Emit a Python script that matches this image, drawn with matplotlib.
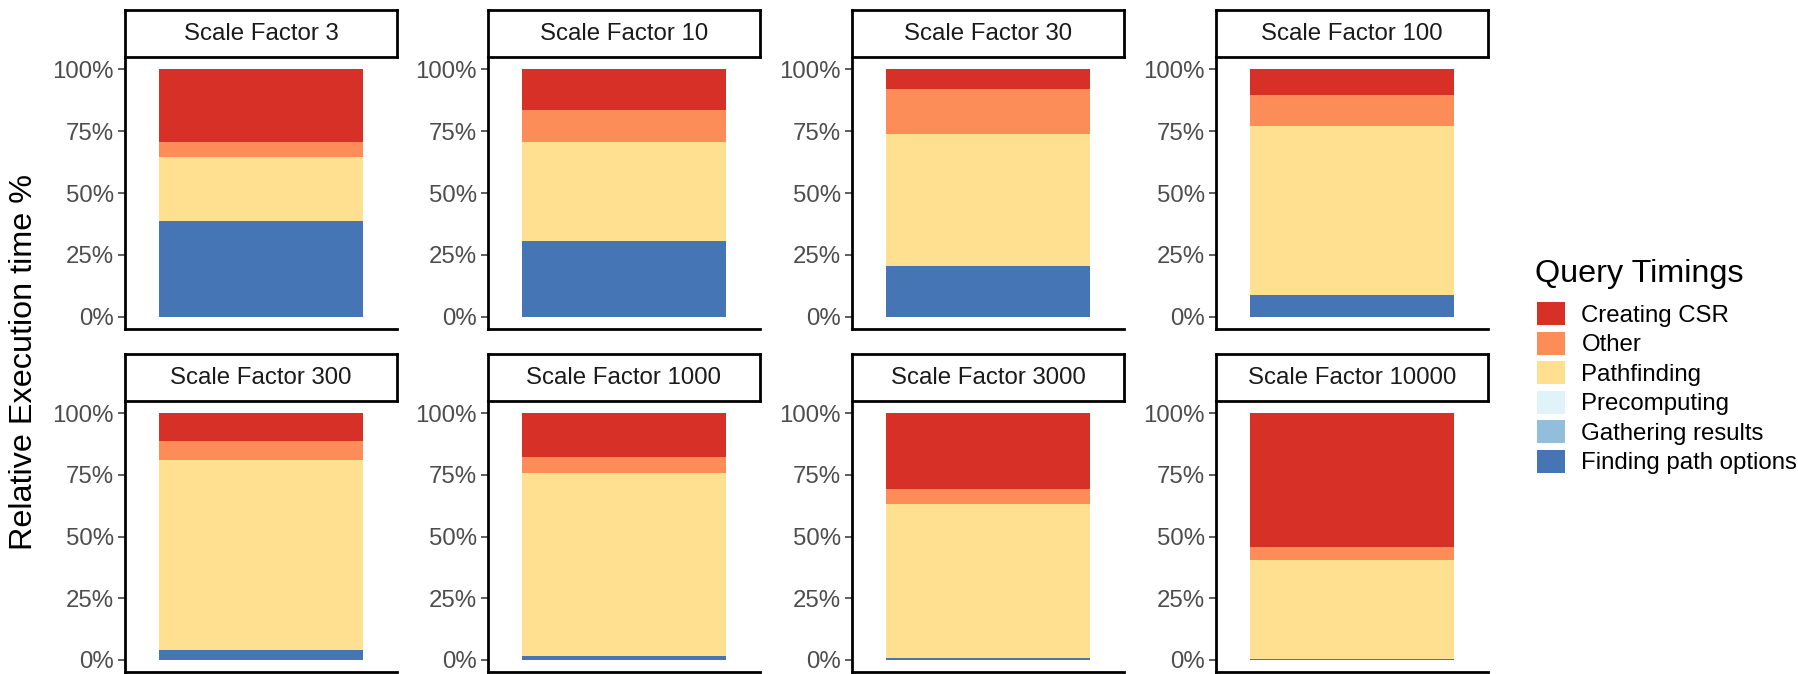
import matplotlib
matplotlib.use("Agg")
import matplotlib.pyplot as plt
from matplotlib.patches import Patch
from matplotlib.ticker import FixedLocator, FuncFormatter

plt.rcParams["font.family"] = ["Liberation Sans", "DejaVu Sans"]

# Scale factors (one facet each)
scale_factors = ["3", "10", "30", "100", "300", "1000", "3000", "10000"]

# Share of total query time per phase, in percent
finding_path_options = [38.5, 30.7, 20.4, 8.7, 3.8, 1.5, 0.8, 0.3]
gathering_results = [0.0, 0.0, 0.0, 0.0, 0.0, 0.0, 0.0, 0.0]
precomputing = [0.0, 0.0, 0.0, 0.0, 0.0, 0.0, 0.0, 0.0]
pathfinding = [25.9, 39.8, 53.5, 68.3, 77.4, 74.3, 62.2, 40.1]
other = [6.1, 13.2, 18.3, 12.5, 7.5, 6.4, 6.4, 5.4]
creating_csr = [29.5, 16.3, 7.8, 10.5, 11.3, 17.8, 30.6, 54.2]

# Stacking order, bottom to top
series_names = ["Finding path options", "Gathering results", "Precomputing",
                "Pathfinding", "Other", "Creating CSR"]
series_values = [finding_path_options, gathering_results, precomputing,
                 pathfinding, other, creating_csr]
series_colors = ["#4575B4", "#91BFDB", "#E0F3F8", "#FEE090", "#FC8D59", "#D73027"]

y_ticks = [0, 25, 50, 75, 100]

W, H = 1798, 674
fig = plt.figure(figsize=(W / 100, H / 100), dpi=100)

col_left = [125, 488, 852, 1216]
panel_w = 272
rows = [  # (strip top, panel top, panel bottom) in pixels from the top
    (10, 57, 329),
    (354, 401, 672),
]

text_size = 17.3
title_size = 23.3

for i, sf in enumerate(scale_factors):
    r, c = divmod(i, 4)
    s_top, p_top, p_bot = rows[r]
    x0 = col_left[c]
    ax = fig.add_axes([x0 / W, (H - p_bot) / H, panel_w / W, (p_bot - p_top) / H])

    bottom = 0.0
    for name, vals, col in zip(series_names, series_values, series_colors):
        ax.bar([0], [vals[i]], width=0.9, bottom=[bottom], color=col,
               edgecolor="none", label=name)
        bottom += vals[i]

    ax.set_xlim(-0.6, 0.6)
    ax.set_ylim(-5, 105)
    ax.yaxis.set_major_locator(FixedLocator(y_ticks))
    ax.yaxis.set_major_formatter(FuncFormatter(lambda v, p: f"{v:.0f}%"))
    ax.set_xticks([])
    for side in ("top", "right"):
        ax.spines[side].set_visible(False)
    for side in ("left", "bottom"):
        ax.spines[side].set_linewidth(2.0)
        ax.spines[side].set_color("black")
    ax.tick_params(axis="y", length=5, width=1.1, color="#333333", pad=3,
                   labelsize=text_size, labelcolor="#4D4D4D")

    # facet strip
    sax = fig.add_axes([x0 / W, (H - p_top) / H, panel_w / W, (p_top - s_top) / H])
    sax.set_xticks([])
    sax.set_yticks([])
    for sp in sax.spines.values():
        sp.set_linewidth(2.0)
        sp.set_color("black")
    sax.text(0.5, 0.5, f"Scale Factor {sf}", ha="center", va="center",
             fontsize=text_size, color="#1A1A1A", transform=sax.transAxes)

fig.text(24 / W, (H - 362) / H, "Relative Execution time %", rotation=90,
         ha="center", va="center", fontsize=title_size, color="black")

# legend, top entry first
fig.text(1535 / W, (H - 274) / H, "Query Timings", ha="left", va="center",
         fontsize=title_size, color="black")
handles = [Patch(facecolor=col, edgecolor="none")
           for col in reversed(series_colors)]
labels = list(reversed(series_names))
fig.legend(handles, labels, loc="upper left",
           bbox_to_anchor=(1537 / W, (H - 302) / H), frameon=False,
           fontsize=text_size, handlelength=1.15, handleheight=1.1,
           labelspacing=0.2, handletextpad=0.7, borderpad=0, borderaxespad=0)

fig.savefig("out.png", dpi=100)
